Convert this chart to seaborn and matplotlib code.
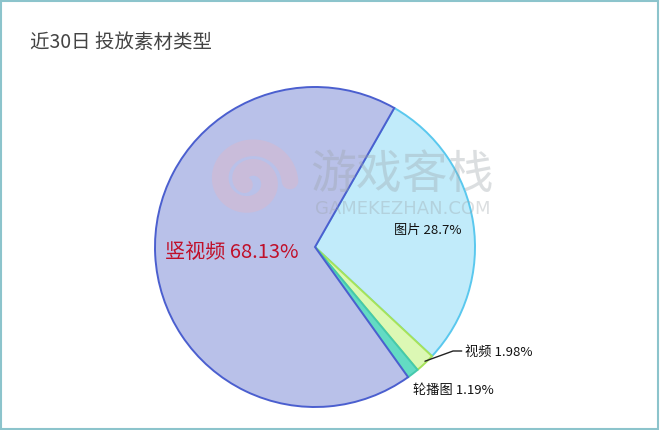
import numpy as np
import matplotlib
matplotlib.use("Agg")
import matplotlib.pyplot as plt
import seaborn as sns

sns.set_theme(style="white")
plt.rcParams['font.family'] = ['Noto Sans CJK SC', 'DejaVu Sans']

title = "近30日 投放素材类型"
categories = ["图片", "视频", "轮播图", "竖视频"]
values = [28.7, 1.98, 1.19, 68.13]
label_texts = ["图片 28.7%", "视频 1.98%", "轮播图 1.19%", "竖视频 68.13%"]
fill_colors = ["#c1ebfa", "#dcf8b4", "#63dbc3", "#b9c1e9"]
edge_colors = ["#5ac8ee", "#a6e35a", "#45c9ad", "#4b5fcf"]

W, H = 660, 431
fig = plt.figure(figsize=(W / 100, H / 100), dpi=100)
ax = fig.add_axes([0, 0, 1, 1])

cx, cy, R = 315, H - 248, 160
start = 60.3
wedges, _ = ax.pie(values, colors=fill_colors, startangle=start, counterclock=False,
                   center=(cx, cy), radius=R, frame=True,
                   wedgeprops=dict(linewidth=1.4))
for w, ec in zip(wedges, edge_colors):
    w.set_edgecolor(ec)
ax.set_xlim(0, W)
ax.set_ylim(0, H)
ax.set_aspect('equal')
ax.axis('off')

# watermark
ax.text(402, H - 188, "游戏客栈", fontsize=33, color="#9aa3a8", alpha=0.35,
        ha="center", va="baseline", zorder=5)
ax.text(403, H - 209, "GAMEKEZHAN.COM", fontsize=13, color="#9aa3a8", alpha=0.35,
        ha="center", va="center", zorder=5, family=["DejaVu Sans"])
theta = np.linspace(0, 2 * np.pi * 1.6, 200)
rr = 40 - theta * 3.3
ax.plot(250 + rr * np.cos(theta), H - 182 + rr * np.sin(theta) * 0.95,
        color="#e8b4be", lw=12, alpha=0.35, solid_capstyle="round", zorder=5)

# labels
ends = start - np.cumsum(values) / 100 * 360
mids = ends + np.array(values) / 100 * 360 / 2
def pt(angle, r):
    a = np.deg2rad(angle)
    return cx + r * np.cos(a), cy + r * np.sin(a)

x, y = pt(mids[0], 0.71 * R)
ax.text(x, y, label_texts[0], fontsize=9.5, color="#111111", ha="center", va="center", zorder=6)
x, y = pt(mids[3], 0.52 * R)
ax.text(x, y, label_texts[3], fontsize=14.5, color="#c0102a", ha="center", va="center", zorder=6)
ex, ey = pt(mids[1], R)
ax.annotate(label_texts[1], xy=(ex, ey + 2), xytext=(465, H - 352),
            fontsize=9.5, color="#111111", ha="left", va="center", zorder=6,
            arrowprops=dict(arrowstyle="-", color="#222222", lw=1,
                            connectionstyle="angle,angleA=0,angleB=20,rad=0",
                            shrinkA=0, shrinkB=0))
ax.text(413, H - 390, label_texts[2], fontsize=9.5, color="#111111", ha="left", va="center", zorder=6)

ax.text(30, H - 42, title, fontsize=14, color="#444444", ha="left", va="center")

border = plt.Rectangle((1, 1), W - 2.5, H - 3, fill=False, edgecolor="#8cc4cc", lw=1.5,
                       transform=ax.transData, zorder=10)
ax.add_patch(border)

fig.savefig("out.png", dpi=100)
